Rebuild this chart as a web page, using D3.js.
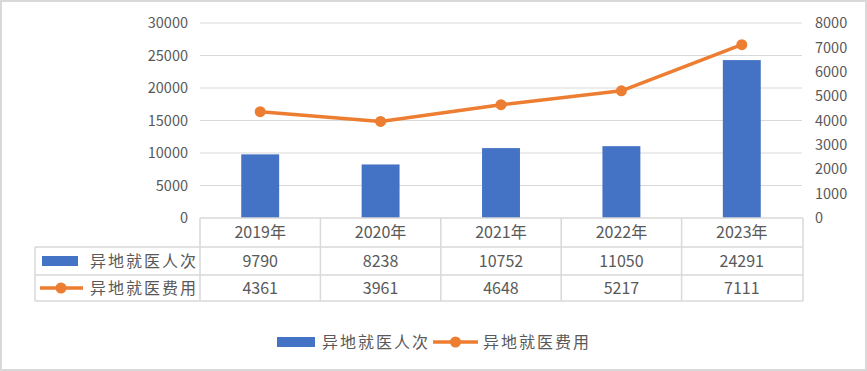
<!DOCTYPE html>
<html>
<head>
<meta charset="utf-8">
<script src="https://cdn.jsdelivr.net/npm/d3@7"></script>
<style>
  html, body { margin: 0; padding: 0; background: #fff; }
  svg text { font-family: "Noto Sans CJK SC", "Noto Sans", sans-serif; fill: #595959; }
</style>
</head>
<body>
<div id="chart"></div>
<script>
const years = ["2019年", "2020年", "2021年", "2022年", "2023年"];
const visits = [9790, 8238, 10752, 11050, 24291];   // 异地就医人次
const costs = [4361, 3961, 4648, 5217, 7111];       // 异地就医费用
const leftTicks = [0, 5000, 10000, 15000, 20000, 25000, 30000];
const rightTicks = [0, 1000, 2000, 3000, 4000, 5000, 6000, 7000, 8000];
const seriesNames = ["异地就医人次", "异地就医费用"];

const width = 867, height = 371;
const plot = {left: 200, right: 802, top: 23, bottom: 218};
const blue = "#4472C4", orange = "#ED7D31", grid = "#d9d9d9";

const svg = d3.select("#chart").append("svg")
  .attr("width", width).attr("height", height);

// outer frame
svg.append("rect")
  .attr("x", 1).attr("y", 1).attr("width", width - 2).attr("height", height - 2)
  .attr("fill", "#fff").attr("stroke", grid).attr("stroke-width", 2);

const x = d3.scaleBand().domain(years).range([plot.left, plot.right])
  .paddingInner(0.685).paddingOuter(0.3425);
const yL = d3.scaleLinear().domain([0, 30000]).range([plot.bottom, plot.top]);
const yR = d3.scaleLinear().domain([0, 8000]).range([plot.bottom, plot.top]);

// gridlines
svg.append("g").selectAll("line").data(leftTicks.slice(1)).join("line")
  .attr("x1", plot.left).attr("x2", plot.right)
  .attr("y1", d => yL(d)).attr("y2", d => yL(d))
  .attr("stroke", grid).attr("stroke-width", 1);

// left axis
const axL = svg.append("g").attr("transform", `translate(${plot.left - 12},0)`)
  .call(d3.axisLeft(yL).tickValues(leftTicks).tickSize(0).tickPadding(0).tickFormat(d3.format("d")));
axL.select(".domain").remove();
axL.selectAll("text").style("font-size", "14.5px").attr("fill", "#595959");

// right axis
const axR = svg.append("g").attr("transform", `translate(${plot.right + 13},0)`)
  .call(d3.axisRight(yR).tickValues(rightTicks).tickSize(0).tickPadding(0).tickFormat(d3.format("d")));
axR.select(".domain").remove();
axR.selectAll("text").style("font-size", "14.5px").attr("fill", "#595959");

// bars
svg.append("g").selectAll("rect").data(visits).join("rect")
  .attr("x", (d, i) => x(years[i]))
  .attr("width", x.bandwidth())
  .attr("y", d => yL(d))
  .attr("height", d => yL(0) - yL(d))
  .attr("fill", blue);

// line
const cx = i => x(years[i]) + x.bandwidth() / 2;
const line = d3.line().x((d, i) => cx(i)).y(d => yR(d));
svg.append("path").datum(costs)
  .attr("d", line).attr("fill", "none")
  .attr("stroke", orange).attr("stroke-width", 3.5).attr("stroke-linejoin", "round");
svg.append("g").selectAll("circle").data(costs).join("circle")
  .attr("cx", (d, i) => cx(i)).attr("cy", d => yR(d)).attr("r", 5.5)
  .attr("fill", orange);

// data table
const rows = [218, 247, 275, 301];
const tableLeft = 35;
const t = svg.append("g").attr("stroke", grid).attr("stroke-width", 1.5).attr("fill", "none");
t.append("line").attr("x1", plot.left).attr("x2", plot.right + 1).attr("y1", rows[0]).attr("y2", rows[0]);
rows.slice(1).forEach(r => {
  t.append("line").attr("x1", tableLeft).attr("x2", plot.right + 1).attr("y1", r).attr("y2", r);
});
const colEdges = years.map(d => x(d) - x.step() * x.paddingOuter() ).concat([plot.right + 1]);
colEdges.forEach(cxv => {
  t.append("line").attr("x1", cxv).attr("x2", cxv).attr("y1", rows[0]).attr("y2", rows[3]);
});
t.append("line").attr("x1", tableLeft).attr("x2", tableLeft).attr("y1", rows[1]).attr("y2", rows[3]);

const cellText = (vals, r0, r1) => {
  svg.append("g").selectAll("text").data(vals).join("text")
    .attr("x", (d, i) => cx(i))
    .attr("y", (rows[r0] + rows[r1]) / 2)
    .attr("dy", "0.36em")
    .attr("text-anchor", "middle")
    .style("font-size", "16px")
    .text(d => d);
};
cellText(years, 0, 1);
cellText(visits, 1, 2);
cellText(costs, 2, 3);

// legend keys inside table
const tableKeyY1 = (rows[1] + rows[2]) / 2, tableKeyY2 = (rows[2] + rows[3]) / 2;
svg.append("rect").attr("x", 42).attr("y", tableKeyY1 - 5).attr("width", 36).attr("height", 10).attr("fill", blue);
svg.append("line").attr("x1", 40).attr("x2", 83).attr("y1", tableKeyY2).attr("y2", tableKeyY2)
  .attr("stroke", orange).attr("stroke-width", 3.5);
svg.append("circle").attr("cx", 61).attr("cy", tableKeyY2).attr("r", 5.5).attr("fill", orange);
[tableKeyY1, tableKeyY2].forEach((yy, i) => {
  svg.append("text").attr("x", 90).attr("y", yy).attr("dy", "0.36em")
    .style("font-size", "16px").style("letter-spacing", "2px").text(seriesNames[i]);
});

// bottom legend
const legY = 342;
const leg = svg.append("g");
leg.append("rect").attr("x", 277).attr("y", legY - 5).attr("width", 38).attr("height", 10).attr("fill", blue);
leg.append("text").attr("x", 322).attr("y", legY).attr("dy", "0.36em")
  .style("font-size", "16px").style("letter-spacing", "2px").text(seriesNames[0]);
leg.append("line").attr("x1", 433).attr("x2", 478).attr("y1", legY).attr("y2", legY)
  .attr("stroke", orange).attr("stroke-width", 3.5);
leg.append("circle").attr("cx", 455.5).attr("cy", legY).attr("r", 5.5).attr("fill", orange);
leg.append("text").attr("x", 483).attr("y", legY).attr("dy", "0.36em")
  .style("font-size", "16px").style("letter-spacing", "2px").text(seriesNames[1]);
</script>
</body>
</html>
